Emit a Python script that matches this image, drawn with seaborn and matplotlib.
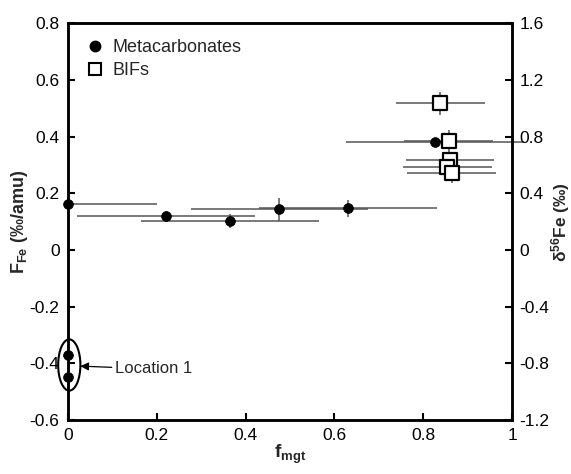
import numpy as np
import pandas as pd
import matplotlib
matplotlib.use("Agg")
import matplotlib.pyplot as plt
from matplotlib.patches import Ellipse
import seaborn as sns

# ---- data ----
meta_x = [0.0, 0.221, 0.365, 0.476, 0.631, 0.827, 0.0, 0.0]
meta_y = [0.161, 0.118, 0.102, 0.143, 0.147, 0.380, -0.371, -0.449]
meta_xerr_lo = [0.0, 0.2, 0.2, 0.2, 0.2, 0.2, 0.0, 0.0]
meta_xerr_hi = [0.2, 0.2, 0.2, 0.2, 0.2, 0.2, 0.0, 0.0]
meta_yerr = [0.0, 0.02, 0.025, 0.04, 0.03, 0.0, 0.02, 0.02]

bif_x = [0.838, 0.857, 0.860, 0.854, 0.864]
bif_y = [0.517, 0.384, 0.317, 0.291, 0.270]
bif_xerr = [0.1, 0.1, 0.1, 0.1, 0.1]
bif_yerr = [0.04, 0.04, 0.0, 0.0, 0.035]

loc1_center = (0.003, -0.406)
loc1_size = (0.05, 0.181)
loc1_arrow_tip = (0.028, -0.41)
loc1_text_pos = (0.106, -0.42)

xticks = [0, 0.2, 0.4, 0.6, 0.8, 1]
xticklabels = ["0", "0.2", "0.4", "0.6", "0.8", "1"]
yticks = [-0.6, -0.4, -0.2, 0, 0.2, 0.4, 0.6, 0.8]
yticklabels = ["-0.6", "-0.4", "-0.2", "0", "0.2", "0.4", "0.6", "0.8"]
y2ticks = [-1.2, -0.8, -0.4, 0, 0.4, 0.8, 1.2, 1.6]
y2ticklabels = ["-1.2", "-0.8", "-0.4", "0", "0.4", "0.8", "1.2", "1.6"]

meta_df = pd.DataFrame({"f": meta_x, "F": meta_y})
bif_df = pd.DataFrame({"f": bif_x, "F": bif_y})

# ---- style ----
sns.set_theme(style="ticks")
plt.rcParams["font.family"] = ["Liberation Sans", "DejaVu Sans"]
plt.rcParams["mathtext.fontset"] = "custom"
plt.rcParams["mathtext.rm"] = "Liberation Sans"
plt.rcParams["mathtext.bf"] = "Liberation Sans:bold"
plt.rcParams["mathtext.it"] = "Liberation Sans:italic"

fig = plt.figure(figsize=(5.71, 4.74), dpi=100)
ax = fig.add_axes([0.119, 0.114, 0.778, 0.837])

ebcol = "#555555"
ax.errorbar(meta_x, meta_y, xerr=[meta_xerr_lo, meta_xerr_hi], yerr=meta_yerr,
            fmt="none", ecolor=ebcol, elinewidth=1.1, capsize=0, clip_on=False, zorder=2)
ax.errorbar(bif_x, bif_y, xerr=bif_xerr, yerr=bif_yerr,
            fmt="none", ecolor=ebcol, elinewidth=1.1, capsize=0, clip_on=False, zorder=2)

sns.scatterplot(data=meta_df, x="f", y="F", ax=ax, marker="o", s=50,
                color="black", edgecolor="black", linewidth=0.5, legend=False,
                clip_on=False, zorder=3)
sns.scatterplot(data=bif_df, x="f", y="F", ax=ax, marker="s", s=95,
                color="white", edgecolor="black", linewidth=1.6, legend=False,
                clip_on=False, zorder=4)

# legend
h1 = plt.Line2D([], [], marker="o", ls="none", color="black", markersize=7.5)
h2 = plt.Line2D([], [], marker="s", ls="none", markerfacecolor="white",
                markeredgecolor="black", markeredgewidth=1.5, markersize=8)
ax.legend([h1, h2], ["Metacarbonates", "BIFs"], loc="upper left", frameon=False,
          fontsize=13, handletextpad=0.35, borderaxespad=0.5, labelspacing=0.3,
          handlelength=1.2, borderpad=0.4)

# location 1 annotation
ell = Ellipse(loc1_center, loc1_size[0], loc1_size[1], fill=False,
              edgecolor="black", linewidth=1.5, clip_on=False, zorder=5)
ax.add_patch(ell)
ax.annotate("Location 1", xy=loc1_arrow_tip, xytext=loc1_text_pos,
            fontsize=12, va="center", ha="left",
            arrowprops=dict(arrowstyle="-|>", color="black", lw=0.9,
                            mutation_scale=12, shrinkA=0, shrinkB=0))

ax.set_xlim(0, 1)
ax.set_ylim(-0.6, 0.8)
ax.set_xticks(xticks)
ax.set_xticklabels(xticklabels)
ax.set_yticks(yticks)
ax.set_yticklabels(yticklabels)
ax.tick_params(direction="in", length=5, width=1.5, labelsize=12.5, pad=6,
               colors="black")
ax.set_xlabel(r"$\mathbf{f}_{\mathbf{mgt}}$", fontsize=13.5, labelpad=0)
ax.set_ylabel(r"$\mathbf{F}_{\mathbf{Fe}}$ (‰/amu)", fontsize=13,
              fontweight="bold", labelpad=0)
for sp in ax.spines.values():
    sp.set_linewidth(1.8)
    sp.set_color("black")

ax2 = ax.twinx()
ax2.set_ylim(-1.2, 1.6)
ax2.set_yticks(y2ticks)
ax2.set_yticklabels(y2ticklabels)
ax2.tick_params(direction="in", length=5, width=1.5, labelsize=12.5, pad=5,
                colors="black")
ax2.set_ylabel(r"δ$^{\mathbf{56}}$Fe (‰)", fontsize=12.5, fontweight="bold",
               rotation=90, va="center", ha="center")
ax2.yaxis.set_label_coords(1.108, 0.5)
for sp in ax2.spines.values():
    sp.set_linewidth(1.8)
    sp.set_color("black")

fig.savefig("out.png", dpi=100)
